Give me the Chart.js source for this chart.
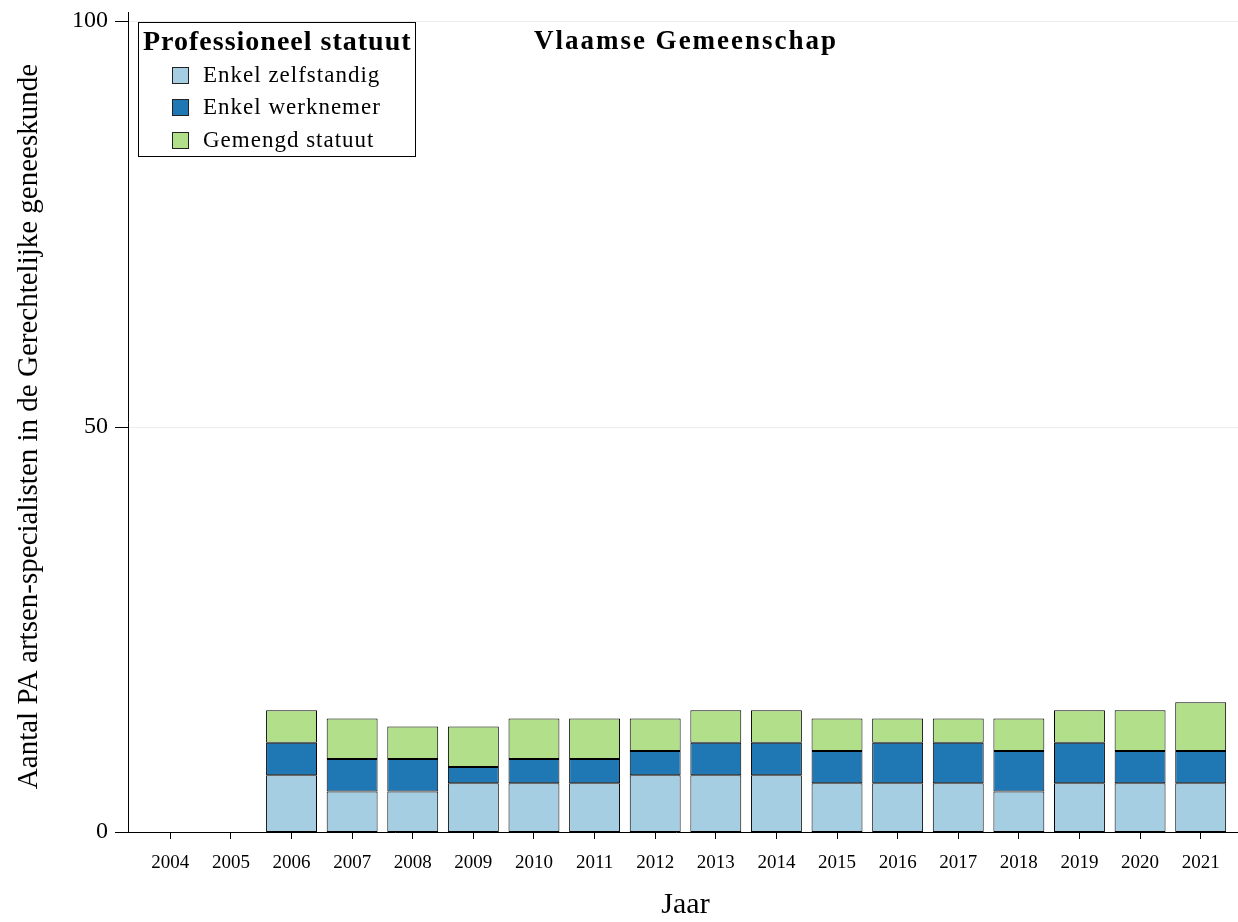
<!DOCTYPE html>
<html>
<head>
<meta charset="utf-8">
<script src="https://cdn.jsdelivr.net/npm/chart.js@4.4.1/dist/chart.umd.min.js"></script>
<style>
    html, body { margin: 0; padding: 0; background: #fff; }
    #wrap { width: 1238px; height: 922px; position: relative; }
</style>
</head>
<body>
<div id="wrap"><canvas id="chart"></canvas></div>
<script>
// ─── Data ─────────────────────────────────────────────────────────────────
const years = ['2004', '2005', '2006', '2007', '2008', '2009', '2010', '2011', '2012',
               '2013', '2014', '2015', '2016', '2017', '2018', '2019', '2020', '2021'];
const zelfstandig = [0, 0, 7, 5, 5, 6, 6, 6, 7, 7, 7, 6, 6, 6, 5, 6, 6, 6];
const werknemer   = [0, 0, 4, 4, 4, 2, 3, 3, 3, 4, 4, 4, 5, 5, 5, 5, 4, 4];
const gemengd     = [0, 0, 4, 5, 4, 5, 5, 5, 4, 4, 4, 4, 3, 3, 4, 4, 5, 6];
const yTicks = [0, 50, 100];

const COLORS = {
    zelfstandig: '#a6cee3',
    werknemer:   '#1f78b4',
    gemengd:     '#b2df8a',
};
const SERIF = "'Liberation Serif', 'Times New Roman', serif";

function line(ctx, x1, y1, x2, y2) {
    ctx.beginPath();
    ctx.moveTo(x1, y1);
    ctx.lineTo(x2, y2);
    ctx.stroke();
}

// ─── Axes, legend and title drawn on top ─────────────────────────────────
const decorPlugin = {
    id: 'decor',
    beforeDatasetsDraw(chart) {
        const ctx = chart.ctx, y = chart.scales.y, area = chart.chartArea;
        ctx.save();
        ctx.strokeStyle = '#ececec';
        ctx.lineWidth = 1;
        yTicks.forEach(v => {
            if (v === 0) return;
            const py = Math.round(y.getPixelForValue(v)) + 0.5;
            line(ctx, 128, py, chart.width, py);
        });
        ctx.restore();
    },
    afterDraw(chart) {
        const ctx = chart.ctx, y = chart.scales.y, area = chart.chartArea;
        ctx.save();
        ctx.strokeStyle = '#000';
        ctx.lineWidth = 1;
        // axis lines
        line(ctx, 128.5, 12, 128.5, area.bottom + 0.5);
        line(ctx, 115, area.bottom + 0.5, chart.width, area.bottom + 0.5);
        yTicks.forEach(v => {
            const py = Math.round(y.getPixelForValue(v)) + 0.5;
            line(ctx, 115, py, 128, py);
        });

        // title
        ctx.fillStyle = '#000';
        ctx.font = 'bold 27px ' + SERIF;
        ctx.letterSpacing = '2px';
        ctx.textAlign = 'center';
        ctx.textBaseline = 'middle';
        ctx.fillText('Vlaamse Gemeenschap', 686, 42);

        // legend
        ctx.fillStyle = '#fff';
        ctx.fillRect(138, 22, 277, 134);
        ctx.strokeRect(138.5, 22.5, 277, 134);
        ctx.fillStyle = '#000';
        ctx.textAlign = 'left';
        ctx.font = 'bold 28px ' + SERIF;
        ctx.letterSpacing = '1px';
        ctx.fillText('Professioneel statuut', 143, 43);

        ctx.font = '23px ' + SERIF;
        const rows = [75, 107, 140];
        chart.data.datasets.forEach((ds, i) => {
            ctx.fillStyle = ds.backgroundColor;
            ctx.fillRect(172, rows[i] - 8, 16, 16);
            ctx.strokeStyle = '#222';
            ctx.strokeRect(172.5, rows[i] - 7.5, 16, 16);
            ctx.fillStyle = '#000';
            ctx.fillText(ds.label, 203, rows[i] + 1);
        });
        ctx.restore();
    }
};

const barStyle = {
    borderColor: '#000',
    borderWidth: 1,
    borderSkipped: false,
    barPercentage: 0.84,
    categoryPercentage: 1.0,
};

new Chart(document.getElementById('chart'), {
    type: 'bar',
    data: {
        labels: years,
        datasets: [
            { label: 'Enkel zelfstandig', data: zelfstandig, backgroundColor: COLORS.zelfstandig, ...barStyle },
            { label: 'Enkel werknemer', data: werknemer, backgroundColor: COLORS.werknemer, ...barStyle },
            { label: 'Gemengd statuut', data: gemengd, backgroundColor: COLORS.gemengd, ...barStyle },
        ]
    },
    options: {
        responsive: true,
        maintainAspectRatio: false,
        animation: false,
        layout: { padding: { top: 21, right: 7, left: 0, bottom: 0 } },
        plugins: {
            legend: { display: false },
            title: { display: false },
            tooltip: { enabled: false }
        },
        scales: {
            x: {
                stacked: true,
                offset: true,
                grid: {
                    display: true,
                    offset: false,
                    drawOnChartArea: false,
                    drawTicks: true,
                    tickLength: 7,
                    color: '#000'
                },
                border: { display: false },
                ticks: {
                    color: '#000',
                    padding: 13,
                    maxRotation: 0,
                    autoSkip: false,
                    font: { family: SERIF, size: 19 }
                },
                title: {
                    display: true,
                    text: 'Jaar',
                    color: '#000',
                    font: { family: SERIF, size: 30, lineHeight: 1.1 },
                    padding: { top: 0, bottom: 0 }
                },
                afterFit(scale) {
                    scale.height = 90;
                    scale.paddingLeft = 0;
                    scale.paddingRight = 0;
                }
            },
            y: {
                stacked: true,
                min: 0,
                max: 100,
                grid: { display: false, drawTicks: false },
                border: { display: false },
                ticks: {
                    stepSize: 50,
                    color: '#000',
                    padding: 32,
                    font: { family: SERIF, size: 24 }
                },
                title: {
                    display: true,
                    text: 'Aantal PA artsen-specialisten in de Gerechtelijke geneeskunde',
                    color: '#000',
                    font: { family: SERIF, size: 29 },
                    padding: { top: 12, bottom: 0 }
                },
                afterFit(scale) {
                    scale.width = 140;
                    scale.paddingTop = 0;
                    scale.paddingBottom = 0;
                }
            }
        }
    },
    plugins: [decorPlugin]
});
</script>
</body>
</html>
